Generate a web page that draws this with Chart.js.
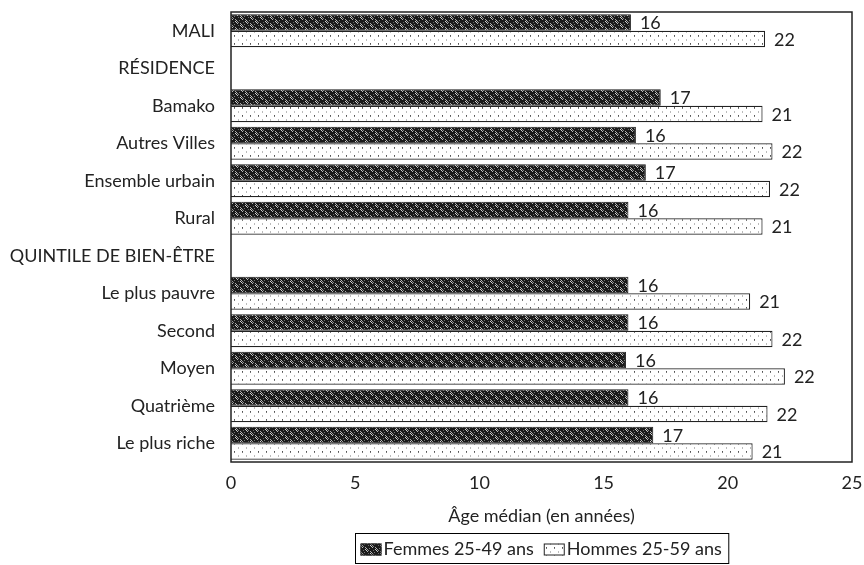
<!DOCTYPE html>
<html>
<head>
<meta charset="utf-8">
<script src="https://cdn.jsdelivr.net/npm/chart.js@4.4.1/dist/chart.umd.min.js"></script>
<style>
  html, body { margin: 0; padding: 0; background: #fff; }
  canvas { display: block; }
</style>
</head>
<body>
<canvas id="ageChart" width="864" height="565"></canvas>
<script>
// catégories (les titres de section n'ont pas de barres)
const categories = [
  "MALI", "RÉSIDENCE", "Bamako", "Autres Villes", "Ensemble urbain", "Rural",
  "QUINTILE DE BIEN-ÊTRE", "Le plus pauvre", "Second", "Moyen", "Quatrième", "Le plus riche"
];
const femmes = [16.1, null, 17.3, 16.3, 16.7, 16.0, null, 16.0, 16.0, 15.9, 16.0, 17.0];
const hommes = [21.5, null, 21.4, 21.8, 21.7, 21.4, null, 20.9, 21.8, 22.3, 21.6, 21.0];
const femmesLabels = ["16", "", "17", "16", "17", "16", "", "16", "16", "16", "16", "17"];
const hommesLabels = ["22", "", "21", "22", "22", "21", "", "21", "22", "22", "22", "21"];
const xTicks = [0, 5, 10, 15, 20, 25];
const seriesNames = ["Femmes 25-49 ans", "Hommes 25-59 ans"];

const FONT = "Lato";
const FSIZE = 18;

// motifs de remplissage
function makePattern(w, h, bg, dots) {
  const c = document.createElement("canvas");
  c.width = w; c.height = h;
  const g = c.getContext("2d");
  g.fillStyle = bg;
  g.fillRect(0, 0, w, h);
  dots.forEach(d => { g.fillStyle = d[2]; g.fillRect(d[0], d[1], 1, 1); });
  return g.createPattern(c, "repeat");
}
const ctx0 = document.getElementById("ageChart").getContext("2d");
const patFemmes = makePattern(10, 8, "#1a1a1a", [
  [1, 0, "#bbb"], [0, 1, "#d0d0d0"], [2, 1, "#999"], [1, 2, "#d0d0d0"], [3, 2, "#888"],
  [2, 3, "#bbb"], [4, 0, "#777"], [5, 3, "#aaa"],
  [6, 4, "#bbb"], [5, 5, "#d0d0d0"], [7, 5, "#999"], [6, 6, "#d0d0d0"], [8, 6, "#888"],
  [7, 7, "#bbb"], [9, 4, "#777"], [0, 7, "#aaa"], [3, 6, "#666"], [8, 1, "#666"]
]);
const patHommes = makePattern(8, 8, "#ffffff", [
  [2, 3, "#555"], [2, 4, "#777"], [6, 0, "#bbb"], [6, 7, "#bbb"]
]);

const labelPlugin = {
  id: "valueLabels",
  afterDatasetsDraw(chart) {
    const { ctx } = chart;
    const lists = [femmesLabels, hommesLabels];
    ctx.save();
    ctx.font = FSIZE + "px " + FONT;
    ctx.fillStyle = "#222";
    ctx.textBaseline = "middle";
    ctx.textAlign = "left";
    chart.data.datasets.forEach((ds, i) => {
      chart.getDatasetMeta(i).data.forEach((bar, j) => {
        if (ds.data[j] == null) return;
        ctx.fillText(lists[i][j], bar.x + 9, bar.y + 1);
      });
    });
    ctx.restore();
  }
};

const framePlugin = {
  id: "frameAndLegend",
  afterDraw(chart) {
    const { ctx, chartArea: a } = chart;
    ctx.save();
    ctx.strokeStyle = "#222";
    ctx.lineWidth = 1.5;
    ctx.strokeRect(a.left, a.top, a.right - a.left, a.bottom - a.top);

    // légende encadrée
    ctx.font = FSIZE + "px " + FONT;
    const w1 = ctx.measureText(seriesNames[0]).width;
    const w2 = ctx.measureText(seriesNames[1]).width;
    const bw = 21, bh = 12;
    const total = 5 + bw + 2 + w1 + 10 + bw + 2 + w2 + 7;
    const x0 = Math.round((a.left + a.right) / 2 - total / 2) + 0.5;
    const y0 = chart.height - 31.5;
    ctx.lineWidth = 1;
    ctx.strokeStyle = "#000";
    ctx.strokeRect(x0, y0, total, 30);
    const cy = y0 + 16;
    let x = x0 + 5;
    const pats = [patFemmes, patHommes];
    [w1, w2].forEach((w, i) => {
      ctx.fillStyle = pats[i];
      ctx.fillRect(x, cy - bh / 2, bw, bh);
      ctx.strokeStyle = "#222";
      ctx.strokeRect(x + 0.5, cy - bh / 2 + 0.5, bw - 1, bh - 1);
      x += bw + 2;
      ctx.fillStyle = "#222";
      ctx.textBaseline = "middle";
      ctx.fillText(seriesNames[i], x, cy);
      x += w + 10;
    });
    ctx.restore();
  }
};

new Chart(ctx0, {
  type: "bar",
  data: {
    labels: categories,
    datasets: [
      { label: seriesNames[0], data: femmes, backgroundColor: patFemmes, borderColor: "#1a1a1a", borderWidth: 1 },
      { label: seriesNames[1], data: hommes, backgroundColor: patHommes, borderColor: "#222", borderWidth: 1.2 }
    ]
  },
  options: {
    indexAxis: "y",
    responsive: false,
    animation: false,
    devicePixelRatio: 1,
    layout: { padding: { top: 12, right: 12, bottom: 38, left: 0 } },
    datasets: { bar: { categoryPercentage: 0.88, barPercentage: 1.0 } },
    plugins: { legend: { display: false }, tooltip: { enabled: false } },
    scales: {
      x: {
        min: 0, max: 25,
        afterBuildTicks(scale) { scale.ticks = xTicks.map(v => ({ value: v })); },
        grid: { display: false, drawTicks: false },
        border: { display: false },
        ticks: { color: "#222", font: { family: FONT, size: FSIZE }, padding: 10 },
        title: { display: true, text: "Âge médian (en années)", color: "#222", font: { family: FONT, size: FSIZE }, padding: { top: 4, bottom: 0 } },
        afterFit(scale) { scale.height = 65; scale.paddingLeft = 0; scale.paddingRight = 0; }
      },
      y: {
        grid: { display: false, drawTicks: false },
        border: { display: false },
        ticks: { color: "#222", font: { family: FONT, size: FSIZE }, padding: 16, autoSkip: false },
        afterFit(scale) { scale.width = 231; scale.paddingTop = 0; scale.paddingBottom = 0; }
      }
    }
  },
  plugins: [labelPlugin, framePlugin]
});
</script>
</body>
</html>
